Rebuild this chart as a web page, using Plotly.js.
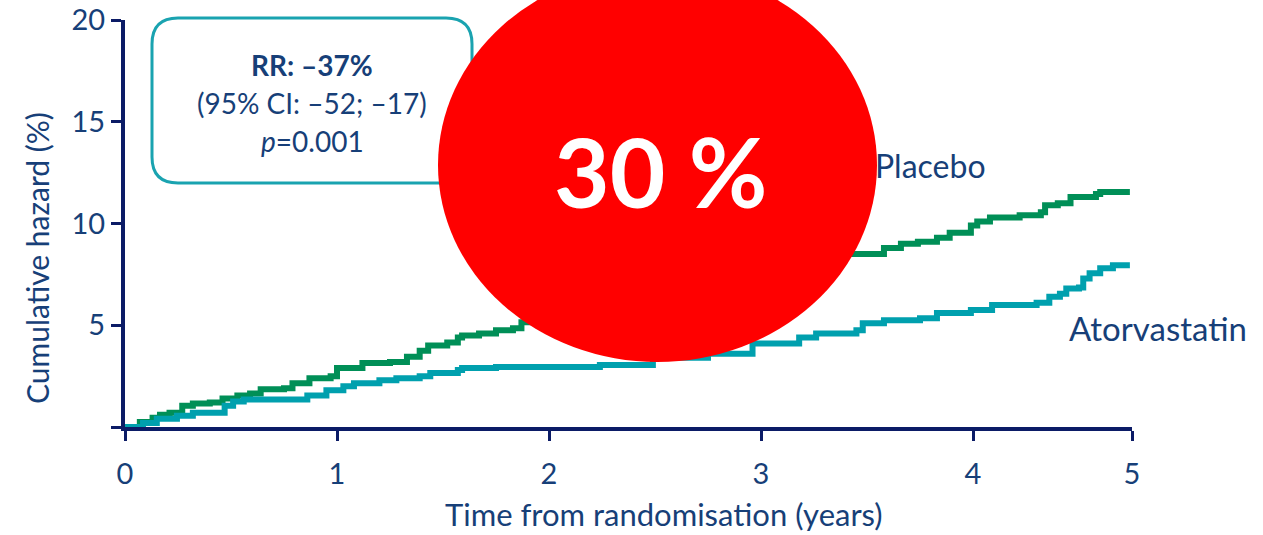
<!DOCTYPE html>
<html>
<head>
<meta charset="utf-8">
<script src="https://cdn.plot.ly/plotly-3.0.1.min.js"></script>
<style>html,body{margin:0;padding:0;background:#fff;}#chart{width:1263px;height:535px;}</style>
</head>
<body>
<div id="chart"></div>
<script>
// ---- data ----
const placeboYears = [0, 0.07, 0.13, 0.165, 0.21, 0.27, 0.32, 0.40, 0.46, 0.53, 0.59, 0.64, 0.75, 0.79, 0.87, 0.97, 1.00, 1.12, 1.25, 1.33, 1.39, 1.43, 1.52, 1.57, 1.59, 1.67, 1.75, 1.83, 1.87, 2.05, 2.24, 2.43, 2.62, 2.81, 3.00, 3.14, 3.29, 3.39, 3.58, 3.66, 3.74, 3.83, 3.89, 3.99, 4.02, 4.08, 4.22, 4.32, 4.34, 4.40, 4.46, 4.58, 4.60, 4.74];
const placeboHazard = [0, 0.25, 0.45, 0.6, 0.7, 1.05, 1.15, 1.2, 1.4, 1.55, 1.65, 1.85, 1.9, 2.15, 2.4, 2.5, 2.9, 3.15, 3.2, 3.45, 3.75, 4.0, 4.15, 4.4, 4.5, 4.6, 4.75, 4.85, 5.15, 5.6, 5.9, 6.3, 6.7, 7.0, 7.4, 7.9, 8.3, 8.5, 8.8, 9.0, 9.1, 9.3, 9.55, 9.9, 10.1, 10.3, 10.4, 10.55, 10.9, 11.0, 11.3, 11.45, 11.55, 11.55];
const atorYears = [0, 0.085, 0.15, 0.245, 0.32, 0.47, 0.51, 0.56, 0.86, 0.95, 1.03, 1.08, 1.20, 1.28, 1.39, 1.44, 1.57, 1.59, 1.75, 2.10, 2.24, 2.49, 2.75, 2.96, 3.18, 3.26, 3.45, 3.48, 3.58, 3.75, 3.83, 3.99, 4.09, 4.27, 4.30, 4.36, 4.41, 4.44, 4.50, 4.52, 4.55, 4.60, 4.66, 4.74];
const atorHazard = [0, 0.2, 0.4, 0.55, 0.7, 1.05, 1.25, 1.35, 1.55, 1.8, 2.0, 2.15, 2.3, 2.4, 2.5, 2.65, 2.8, 2.9, 2.95, 2.95, 3.05, 3.4, 3.6, 4.1, 4.4, 4.6, 4.75, 5.1, 5.25, 5.35, 5.6, 5.75, 6.0, 6.0, 6.1, 6.4, 6.55, 6.8, 6.85, 7.3, 7.55, 7.8, 7.95, 7.95];
const seriesNames = ['Placebo', 'Atorvastatin'];
const xTickVals = [0, 1, 2, 3, 4, 4.75];
const xTickText = ['0', '1', '2', '3', '4', '5'];
const yTickVals = [0, 5, 10, 15, 20];
const yTickText = ['', '5', '10', '15', '20'];
const statLines = ['<b>RR: –37%</b>', '(95% CI: –52; –17)', '<i>p</i>=0.001'];
const badgeText = '30 %';
const xTitle = 'Time from randomisation (years)';
const yTitle = 'Cumulative hazard (%)';

// ---- layout helpers ----
const W = 1263, H = 535, L = 125, R = 131, T = 20, B = 108;
const pw = W - L - R, ph = H - T - B;
const fx = px => (px - L) / pw;
const fy = py => (H - B - py) / ph;

const navy = '#0b1b66';
const textBlue = '#173f78';
const font = 'Lato, "Open Sans", sans-serif';

function roundRectPath(x0, y0, x1, y1, r) {
  const X = fx, Y = fy;
  return `M ${X(x0 + r)} ${Y(y0)} L ${X(x1 - r)} ${Y(y0)} Q ${X(x1)} ${Y(y0)} ${X(x1)} ${Y(y0 + r)} ` +
         `L ${X(x1)} ${Y(y1 - r)} Q ${X(x1)} ${Y(y1)} ${X(x1 - r)} ${Y(y1)} ` +
         `L ${X(x0 + r)} ${Y(y1)} Q ${X(x0)} ${Y(y1)} ${X(x0)} ${Y(y1 - r)} ` +
         `L ${X(x0)} ${Y(y0 + r)} Q ${X(x0)} ${Y(y0)} ${X(x0 + r)} ${Y(y0)} Z`;
}

const traces = [
  {x: placeboYears, y: placeboHazard, name: seriesNames[0], type: 'scatter', mode: 'lines',
   line: {shape: 'hv', color: '#008f57', width: 6}},
  {x: atorYears, y: atorHazard, name: seriesNames[1], type: 'scatter', mode: 'lines',
   line: {shape: 'hv', color: '#00a0ae', width: 6}}
];

const layout = {
  width: W, height: H,
  margin: {l: L, r: R, t: T, b: B},
  paper_bgcolor: '#fff', plot_bgcolor: '#fff',
  showlegend: false,
  font: {family: font, color: textBlue, size: 26},
  xaxis: {
    range: [0, 4.75], tickvals: xTickVals, ticktext: xTickText,
    showgrid: false, zeroline: false, showline: true, linecolor: navy, linewidth: 4,
    ticks: 'outside', ticklen: 10, tickwidth: 3, tickcolor: navy,
    tickfont: {family: font, size: 29, color: textBlue}, ticklabelstandoff: 8
  },
  yaxis: {
    range: [0, 20], tickvals: yTickVals, ticktext: yTickText,
    showgrid: false, zeroline: false, showline: true, linecolor: navy, linewidth: 4,
    ticks: 'outside', ticklen: 10, tickwidth: 3, tickcolor: navy,
    tickfont: {family: font, size: 29, color: textBlue}
  },
  shapes: [
    {type: 'path', xref: 'paper', yref: 'paper', path: roundRectPath(152, 18, 472, 183, 26),
     line: {color: '#1aa3b0', width: 3}, fillcolor: 'rgba(255,255,255,0)', layer: 'above'},
    {type: 'circle', xref: 'paper', yref: 'paper',
     x0: fx(438), x1: fx(877), y0: fy(362), y1: fy(-32),
     fillcolor: '#ff0000', line: {width: 0}, layer: 'above'}
  ],
  annotations: [
    {xref: 'paper', yref: 'paper', x: fx(312), y: fy(65), text: statLines[0], showarrow: false,
     font: {family: font, size: 28, color: textBlue}, xanchor: 'center', yanchor: 'middle'},
    {xref: 'paper', yref: 'paper', x: fx(312), y: fy(103), text: statLines[1], showarrow: false,
     font: {family: font, size: 28, color: textBlue}, xanchor: 'center', yanchor: 'middle'},
    {xref: 'paper', yref: 'paper', x: fx(312), y: fy(141), text: statLines[2], showarrow: false,
     font: {family: font, size: 28, color: textBlue}, xanchor: 'center', yanchor: 'middle'},
    {xref: 'paper', yref: 'paper', x: fx(660), y: fy(170), text: '<b>' + badgeText + '</b>', showarrow: false,
     font: {family: font, size: 96, color: '#ffffff'}, xanchor: 'center', yanchor: 'middle'},
    {xref: 'paper', yref: 'paper', x: fx(873), y: fy(165), text: seriesNames[0], showarrow: false,
     font: {family: font, size: 32, color: textBlue}, xanchor: 'left', yanchor: 'middle'},
    {xref: 'paper', yref: 'paper', x: fx(1067), y: fy(328), text: seriesNames[1], showarrow: false,
     font: {family: font, size: 33, color: textBlue}, xanchor: 'left', yanchor: 'middle'},
    {xref: 'paper', yref: 'paper', x: fx(664), y: fy(514), text: xTitle, showarrow: false,
     font: {family: font, size: 31, color: textBlue}, xanchor: 'center', yanchor: 'middle'},
    {xref: 'paper', yref: 'paper', x: fx(37), y: fy(258), text: yTitle, showarrow: false, textangle: -90,
     font: {family: font, size: 30, color: textBlue}, xanchor: 'center', yanchor: 'middle'}
  ]
};

Plotly.newPlot('chart', traces, layout, {displayModeBar: false, staticPlot: true});
</script>
</body>
</html>
